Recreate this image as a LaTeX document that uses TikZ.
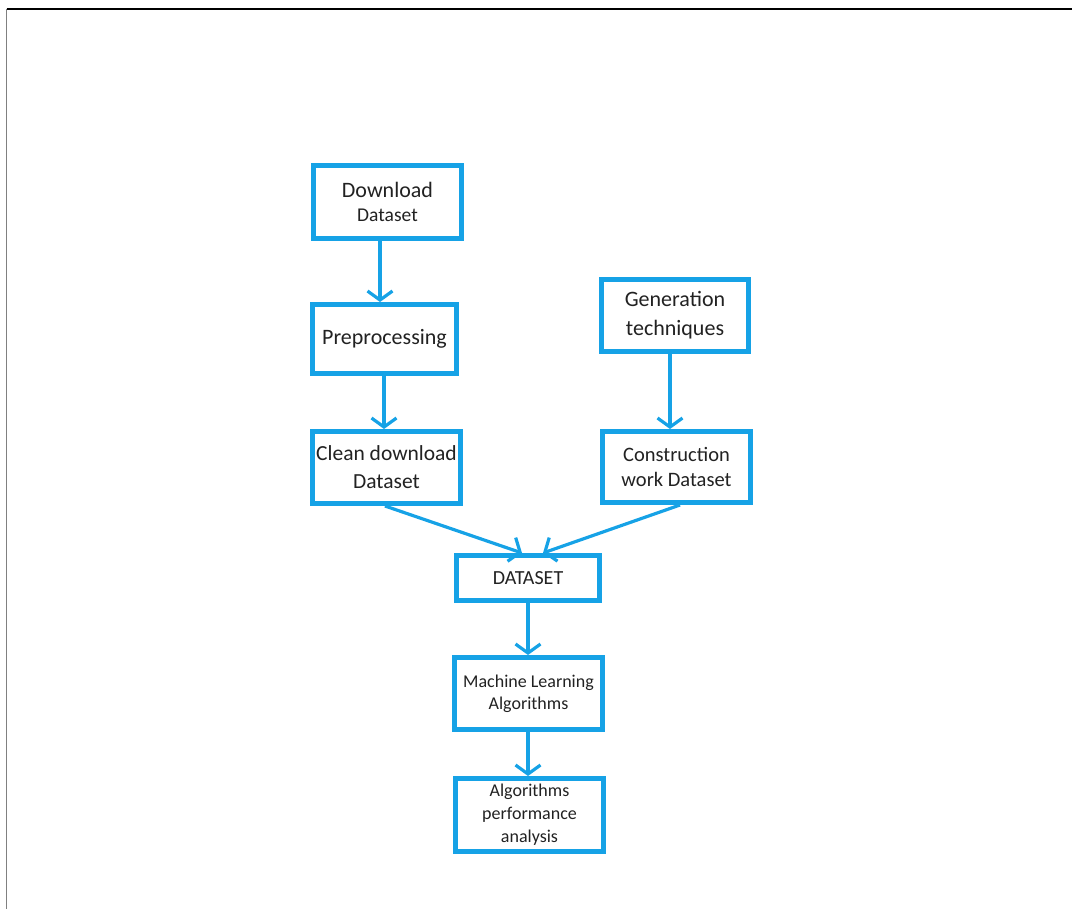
\documentclass[tikz,border=0pt]{standalone}
\usepackage{fontspec}
\setmainfont{Carlito}
\usetikzlibrary{arrows.meta}
\definecolor{flowblue}{HTML}{16A2E6}
\definecolor{txt}{HTML}{222222}
\tikzset{
  box/.style={draw=flowblue, line width=5pt, fill=white, inner sep=0pt,
    align=center, text=txt, font=\fontsize{21}{26}\selectfont},
  conn/.style={draw=flowblue, line width=3.2pt,
    -{Straight Barb[length=9pt,width=25pt,line width=3.2pt]}}
}
\begin{document}
\begin{tikzpicture}[x=1pt,y=-1pt]
\useasboundingbox (0,0) rectangle (1072,909);
\draw[black, line width=1.6pt] (6.5,9) -- (1072,9);
\draw[gray, line width=1.6pt] (6.5,9) -- (6.5,909);

\node[box, minimum width=148pt, minimum height=73pt,
  font=\fontsize{22}{24}\selectfont] (dl) at (387.5,202)
  {Download\\ \fontsize{19.5}{24}\selectfont Dataset};
\node[box, minimum width=144pt, minimum height=69pt,
  font=\fontsize{22}{26}\selectfont] (pre) at (384.5,339)
  {\raisebox{2pt}{Preprocessing}};
\node[box, minimum width=147pt, minimum height=72pt,
  font=\fontsize{22}{29}\selectfont] (gen) at (675,315.5)
  {Generation\\ techniques};
\node[box, minimum width=148pt, minimum height=71pt,
  font=\fontsize{20.5}{25}\selectfont] (con) at (676.5,467)
  {Construction\\ work Dataset};
\node[box, minimum width=148pt, minimum height=72pt,
  font=\fontsize{21.5}{28}\selectfont] (cln) at (386.5,467.5)
  {Clean download\\ Dataset};
\node[box, minimum width=143pt, minimum height=45pt,
  font=\fontsize{20}{24}\selectfont] (ds) at (528,578)
  {DATASET};
\node[box, minimum width=148pt, minimum height=72pt,
  font=\fontsize{18}{22}\selectfont] (ml) at (528.5,693.5)
  {Machine Learning\\ Algorithms};
\node[box, minimum width=148pt, minimum height=73pt,
  font=\fontsize{18}{23}\selectfont] (perf) at (529.5,815)
  {Algorithms\\ performance\\ analysis};

\draw[conn] (dl.south -| 380,0) -- (pre.north -| 380,0);
\draw[conn] (pre.south -| 384,0) -- (cln.north -| 384,0);
\draw[conn] (gen.south -| 670,0) -- (con.north -| 670,0);
\draw[conn] (cln.south -| 385,0) -- (ds.north -| 522,0);
\draw[conn] (con.south -| 680,0) -- (ds.north -| 543,0);
\draw[conn] (ds.south -| 528,0) -- (ml.north -| 528,0);
\draw[conn] (ml.south -| 528,0) -- (perf.north -| 528,0);
\end{tikzpicture}
\end{document}
